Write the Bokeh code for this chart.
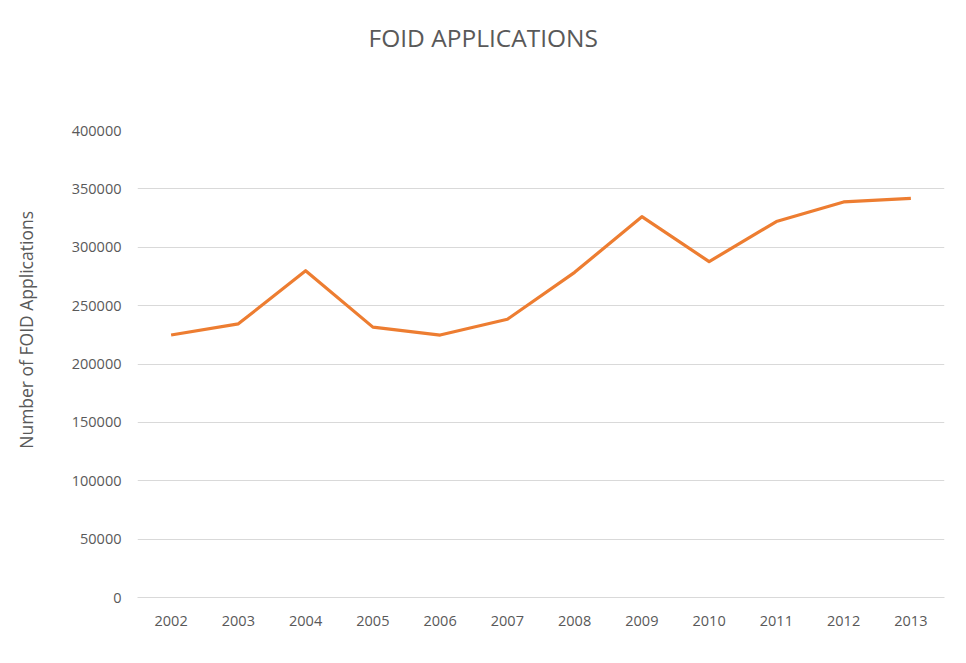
from bokeh.plotting import figure
from bokeh.models import FactorRange, Range1d, FixedTicker, BasicTickFormatter, Title
from bokeh.embed import file_html
from bokeh.resources import INLINE

years = ["2002", "2003", "2004", "2005", "2006", "2007", "2008", "2009", "2010", "2011", "2012", "2013"]
applications = [224800, 234400, 279900, 231600, 224800, 238300, 278500, 326200, 287700, 322000, 338800, 341900]
y_ticks = [0, 50000, 100000, 150000, 200000, 250000, 300000, 350000, 400000]
title_text = "FOID APPLICATIONS"
y_label_text = "Number of FOID Applications"

FONT = "Open Sans"
TXT = "#595959"

W, H = 950, 647
LEFT, TOP, RIGHT, BOTTOM = 137, 130, 6, 50

p = figure(
    width=W, height=H,
    x_range=FactorRange(*years, range_padding=0),
    y_range=Range1d(y_ticks[0], y_ticks[-1]),
    output_backend="svg", toolbar_location=None,
    min_border_left=LEFT, min_border_right=RIGHT, min_border_top=TOP, min_border_bottom=BOTTOM,
)
p.outline_line_color = None
p.background_fill_color = "white"
p.border_fill_color = "white"

p.line(years, applications, line_color="#ED7D31", line_width=3.2, line_join="round")

# grid
p.xgrid.grid_line_color = None
p.ygrid.grid_line_color = "#d9d9d9"
p.ygrid.grid_line_width = 1
p.yaxis.ticker = FixedTicker(ticks=y_ticks)

# y axis
p.yaxis.axis_line_color = None
p.yaxis.major_tick_line_color = None
p.yaxis.minor_tick_line_color = None
p.yaxis.major_tick_in = 0
p.yaxis.major_tick_out = 0
p.yaxis.major_label_standoff = 16
p.yaxis.formatter = BasicTickFormatter(use_scientific=False)
p.yaxis.major_label_text_font = FONT
p.yaxis.major_label_text_font_size = "14.5px"
p.yaxis.major_label_text_color = TXT
p.yaxis.axis_label = "\u00a0" * 15 + y_label_text
p.yaxis.axis_label_standoff = 31
p.yaxis.axis_label_text_font = FONT
p.yaxis.axis_label_text_font_size = "17.5px"
p.yaxis.axis_label_text_font_style = "normal"
p.yaxis.axis_label_text_color = TXT

# x axis
p.xaxis.axis_line_color = "#d9d9d9"
p.xaxis.major_tick_line_color = None
p.xaxis.minor_tick_line_color = None
p.xaxis.major_tick_in = 0
p.xaxis.major_tick_out = 0
p.xaxis.major_label_standoff = 18
p.xaxis.major_label_text_font = FONT
p.xaxis.major_label_text_font_size = "14.5px"
p.xaxis.major_label_text_color = TXT

# chart title, centred on the whole chart (outermost panel)
p.title = Title(text=title_text, align="left", offset=231,
                standoff=36, text_font=FONT, text_font_size="24.5px",
                text_font_style="normal", text_color=TXT)
# blank spacer panel between the plot area and the title
p.add_layout(Title(text="\u00a0", standoff=56, text_font_size="1px"), "above")

open("out.html", "w").write(file_html(p, INLINE))
